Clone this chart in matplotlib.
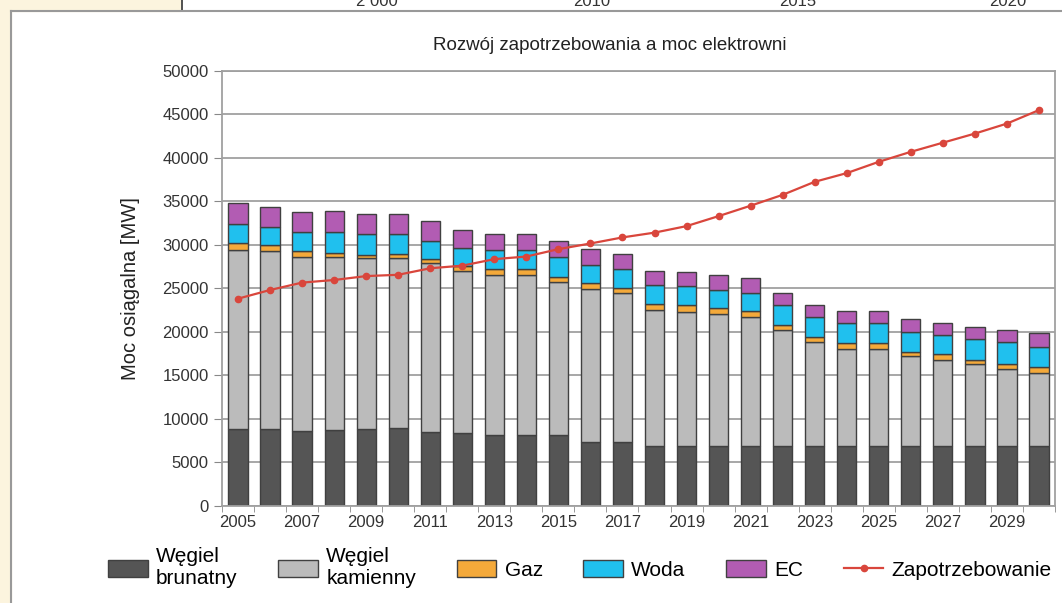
import numpy as np
import matplotlib
matplotlib.use('Agg')
import matplotlib.pyplot as plt
from matplotlib.patches import Rectangle
from matplotlib.lines import Line2D

plt.rcParams['font.family'] = ['Liberation Sans', 'DejaVu Sans']

years = list(range(2005, 2031))
brunatny = [8800, 8800, 8550, 8650, 8850, 8900, 8500, 8350, 8100, 8100, 8100, 7300, 7300,
            6800, 6800, 6800, 6800, 6800, 6800, 6800, 6800, 6800, 6800, 6800, 6800, 6800]
kamienny = [20650, 20450, 20050, 19950, 19600, 19600, 19350, 18600, 18400, 18400, 17600, 17650, 17100,
            15700, 15500, 15200, 14850, 13400, 12050, 11200, 11200, 10450, 10000, 9450, 8950, 8450]
gaz = [700, 700, 650, 500, 400, 400, 500, 600, 700, 700, 600, 600, 600,
       650, 750, 750, 750, 600, 500, 700, 700, 450, 650, 450, 550, 700]
woda = [2200, 2100, 2200, 2400, 2400, 2400, 2100, 2100, 2200, 2200, 2300, 2100, 2200,
        2200, 2200, 2100, 2100, 2300, 2300, 2300, 2300, 2300, 2150, 2500, 2500, 2250]
ec = [2500, 2350, 2300, 2400, 2250, 2250, 2300, 2000, 1900, 1900, 1800, 1850, 1750,
      1650, 1650, 1650, 1650, 1350, 1450, 1400, 1400, 1450, 1450, 1350, 1370, 1600]
zapotrzebowanie = [23800, 24800, 25650, 25950, 26400, 26550, 27300, 27600, 28350, 28650, 29500, 30150, 30850,
                   31400, 32150, 33300, 34500, 35750, 37250, 38250, 39550, 40700, 41750, 42800, 43950, 45500]

series = [('Węgiel\nbrunatny', brunatny, '#555555'),
          ('Węgiel\nkamienny', kamienny, '#bbbbbb'),
          ('Gaz', gaz, '#f4a93a'),
          ('Woda', woda, '#20c0ee'),
          ('EC', ec, '#b25cb3')]

W, H = 1062, 603
fig = plt.figure(figsize=(W / 100, H / 100), dpi=100, facecolor='white')

# scan frame around the chart
beige = '#fcf4de'
fig.patches.append(Rectangle((0, 0), 11 / W, 1, transform=fig.transFigure, color=beige, zorder=0))
fig.patches.append(Rectangle((0, 1 - 11 / H), 180 / W, 11 / H, transform=fig.transFigure, color=beige, zorder=0))
fig.lines.append(Line2D([182 / W, 182 / W], [1 - 11 / H, 1], transform=fig.transFigure, color='#333333', lw=1.2))
fig.lines.append(Line2D([11 / W, 1], [1 - 11 / H, 1 - 11 / H], transform=fig.transFigure, color='#999999', lw=1.5))
fig.lines.append(Line2D([11 / W, 11 / W], [0, 1 - 11 / H], transform=fig.transFigure, color='#999999', lw=1.5))
# bottom of the neighbouring chart's axis labels, cut by the scan
for lab, px in [('2 000', 377), ('2010', 592), ('2015', 798), ('2020', 1008)]:
    fig.text(px / W, 1 - 1 / H, lab, ha='center', va='center', fontsize=12, color='#333333')

ax = fig.add_axes([222 / W, 1 - 505.5 / H, (1055 - 222) / W, (505.5 - 71) / H])
x = np.array(years)
bottom = np.zeros(len(years))
handles = []
for name, vals, col in series:
    b = ax.bar(x, vals, width=0.6, bottom=bottom, color=col, edgecolor='#404040', linewidth=1.0,
               label=name, zorder=2)
    bottom += np.array(vals)
    handles.append(b)
ln, = ax.plot(x, zapotrzebowanie, color='#d9463c', lw=1.6, marker='o', markersize=4.5,
              label='Zapotrzebowanie', zorder=3)
handles.append(ln)

ax.set_xlim(2004.5, 2030.5)
ax.set_ylim(0, 50000)
ax.set_yticks(range(0, 50001, 5000))
ax.set_xticks(years[::2])
ax.set_xticks(np.arange(2004.5, 2030.6, 1), minor=True)
ax.tick_params(axis='x', which='major', length=0, labelsize=12, colors='#333333', pad=7)
ax.tick_params(axis='x', which='minor', length=4, color='#888888')
ax.tick_params(axis='y', length=6, color='#888888', labelsize=12, labelcolor='#333333')
ax.grid(axis='y', color='#a0a0a0', lw=1.3, zorder=0)
for s in ax.spines.values():
    s.set_color('#a0a0a0')
    s.set_linewidth(1.3)

ax.set_ylabel('Moc osiągalna [MW]', fontsize=14.5, color='#222222', labelpad=16)
fig.text(610 / W, 1 - 45 / H, 'Rozwój zapotrzebowania a moc elektrowni', ha='center', va='center',
         fontsize=13.5, color='#222222')

fig.legend(handles=handles, loc='center', bbox_to_anchor=(580 / W, 1 - 568 / H), ncol=6, frameon=False,
           fontsize=15, handlelength=1.9, handleheight=0.9, handletextpad=0.4, columnspacing=1.95,
           labelspacing=0.1)

fig.savefig('out.png', dpi=100, facecolor='white')
